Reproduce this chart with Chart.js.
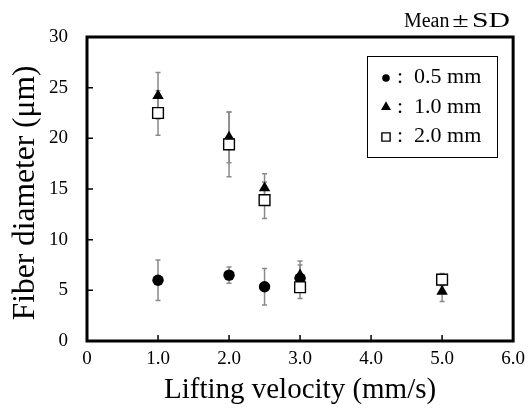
<!DOCTYPE html>
<html>
<head>
<meta charset="utf-8">
<script src="https://cdn.jsdelivr.net/npm/chart.js@4/dist/chart.umd.min.js"></script>
<style>
  body { margin: 0; background: #fff; }
  canvas { display: block; }
</style>
</head>
<body>
<canvas id="myChart" width="532" height="408"></canvas>
<script>
// values (mean and SD, um)
var velocity05 = [1.0, 2.0, 2.5, 3.0];
var mean05 = [6.0, 6.5, 5.35, 6.2];
var sd05 = [2.0, 0.8, 1.8, 1.3];

var velocity10 = [1.0, 2.0, 2.5, 3.0, 5.0];
var mean10 = [24.2, 20.1, 15.1, 6.5, 4.9];
var sd10 = [2.3, 2.5, 1.4, 1.4, 1.0];

var velocity20 = [1.0, 2.0, 2.5, 3.0, 5.0];
var mean20 = [22.5, 19.4, 13.9, 5.3, 6.05];
var sd20 = [2.2, 3.2, 1.8, 1.1, 0.6];

var seriesLabels = ['0.5 mm', '1.0 mm', '2.0 mm'];
var xTicks = [0, 1, 2, 3, 4, 5, 6];
var yTicks = [0, 5, 10, 15, 20, 25, 30];

var serif = "'Liberation Serif', 'Times New Roman', serif";

function points(xs, ys, sds) {
  var out = [];
  for (var i = 0; i < xs.length; i++) out.push({x: xs[i], y: ys[i], sd: sds[i]});
  return out;
}

// gray error bars, drawn under the markers
var errorBars = {
  id: 'errorBars',
  beforeDatasetsDraw: function(chart) {
    var ctx = chart.ctx, xs = chart.scales.x, ys = chart.scales.y;
    ctx.save();
    ctx.strokeStyle = '#8a8a8a';
    ctx.lineWidth = 1.5;
    chart.data.datasets.forEach(function(ds) {
      ds.data.forEach(function(p) {
        var px = xs.getPixelForValue(p.x);
        var top = ys.getPixelForValue(p.y + p.sd);
        var bot = ys.getPixelForValue(p.y - p.sd);
        ctx.beginPath();
        ctx.moveTo(px, top); ctx.lineTo(px, bot);
        ctx.moveTo(px - 2.5, top); ctx.lineTo(px + 2.5, top);
        ctx.moveTo(px - 2.5, bot); ctx.lineTo(px + 2.5, bot);
        ctx.stroke();
      });
    });
    ctx.restore();
  }
};

// thick frame with inward tick marks
var frame = {
  id: 'frame',
  afterDatasetsDraw: function(chart) {
    var ctx = chart.ctx, a = chart.chartArea;
    var xs = chart.scales.x, ys = chart.scales.y;
    ctx.save();
    ctx.strokeStyle = '#000';
    ctx.lineWidth = 1.5;
    ctx.beginPath();
    xTicks.forEach(function(v) {
      var px = xs.getPixelForValue(v);
      ctx.moveTo(px, a.bottom); ctx.lineTo(px, a.bottom - 6);
    });
    yTicks.forEach(function(v) {
      var py = ys.getPixelForValue(v);
      ctx.moveTo(a.left, py); ctx.lineTo(a.left + 6, py);
    });
    ctx.stroke();
    ctx.lineWidth = 3;
    ctx.strokeRect(a.left, a.top, a.right - a.left, a.bottom - a.top);
    ctx.restore();
  }
};

// boxed legend and the Mean±SD note
var boxLegend = {
  id: 'boxLegend',
  afterDraw: function(chart) {
    var ctx = chart.ctx;
    ctx.save();
    ctx.strokeStyle = '#000';
    ctx.lineWidth = 1;
    ctx.strokeRect(367.5, 56.5, 130, 101);
    var sizes = [3.8, 5.8, 5.8];
    var markY = [78, 107, 137];
    var baseY = [83, 112.5, 142];
    var legendOrder = [0, 1, 2];
    legendOrder.forEach(function(k, i) {
      var ds = chart.data.datasets[k];
      ctx.fillStyle = ds.backgroundColor;
      ctx.strokeStyle = ds.borderColor;
      ctx.lineWidth = ds.borderWidth;
      Chart.helpers.drawPoint(ctx, {pointStyle: ds.pointStyle, radius: sizes[i], rotation: 0, borderWidth: ds.borderWidth}, 386, markY[i]);
      ctx.fillStyle = '#000';
      ctx.font = '22px ' + serif;
      ctx.textBaseline = 'alphabetic';
      ctx.textAlign = 'left';
      ctx.fillText(':  ' + ds.label, 397, baseY[i]);
    });
    // "Mean" then a wide ± and wide "SD"
    ctx.font = '20px ' + serif;
    ctx.fillStyle = '#000';
    ctx.textAlign = 'right';
    ctx.fillText('Mean', 449.5, 27);
    ctx.save();
    ctx.translate(460.5, 27);
    ctx.scale(1.5, 1);
    ctx.textAlign = 'center';
    ctx.fillText('\u00b1', 0, 0);
    ctx.restore();
    ctx.save();
    ctx.font = '21px ' + serif;
    ctx.translate(472, 27);
    var sdw = ctx.measureText('SD').width;
    ctx.scale(38 / sdw, 1);
    ctx.textAlign = 'left';
    ctx.fillText('SD', 0, 0);
    ctx.restore();
    ctx.restore();
  }
};

var ctx = document.getElementById('myChart').getContext('2d');
var myChart = new Chart(ctx, {
  type: 'scatter',
  data: {
    datasets: [{
      label: seriesLabels[0],
      data: points(velocity05, mean05, sd05),
      pointStyle: 'circle',
      pointRadius: 5.7,
      backgroundColor: '#000',
      borderColor: '#000',
      borderWidth: 0,
      order: 2
    }, {
      label: seriesLabels[1],
      data: points(velocity10, mean10, sd10),
      pointStyle: 'triangle',
      pointRadius: 6.6,
      backgroundColor: '#000',
      borderColor: '#000',
      borderWidth: 0,
      order: 1
    }, {
      label: seriesLabels[2],
      data: points(velocity20, mean20, sd20),
      pointStyle: 'rect',
      pointRadius: 7.6,
      backgroundColor: '#fff',
      borderColor: '#000',
      borderWidth: 1.4,
      order: 0
    }]
  },
  options: {
    responsive: false,
    animation: false,
    events: [],
    layout: { padding: { top: 37, right: 14, left: 0, bottom: 0 } },
    plugins: { legend: { display: false }, tooltip: { enabled: false } },
    scales: {
      x: {
        type: 'linear',
        min: 0, max: 6,
        afterFit: function(s) { s.height = 67; },
        afterBuildTicks: function(s) { s.ticks = xTicks.map(function(v) { return {value: v}; }); },
        grid: { display: false, drawTicks: false },
        border: { display: false },
        ticks: {
          padding: 7,
          color: '#000',
          font: { family: serif, size: 19 },
          maxRotation: 0,
          callback: function(v) { return v === 0 ? '0' : v.toFixed(1); }
        },
        title: {
          display: true,
          text: 'Lifting velocity (mm/s)',
          color: '#000',
          font: { family: serif, size: 29, lineHeight: 1 },
          padding: { top: 0, bottom: 3 }
        }
      },
      y: {
        type: 'linear',
        min: 0, max: 30,
        afterFit: function(s) { s.width = 87; },
        afterBuildTicks: function(s) { s.ticks = yTicks.map(function(v) { return {value: v}; }); },
        grid: { display: false, drawTicks: false },
        border: { display: false },
        ticks: {
          padding: 19,
          color: '#000',
          font: { family: serif, size: 19 }
        },
        title: {
          display: true,
          text: 'Fiber diameter (\u03bcm) ',
          color: '#000',
          font: { family: serif, size: 31.5, lineHeight: 1 },
          padding: { top: 10, bottom: 0 }
        }
      }
    }
  },
  plugins: [errorBars, frame, boxLegend]
});
</script>
</body>
</html>
